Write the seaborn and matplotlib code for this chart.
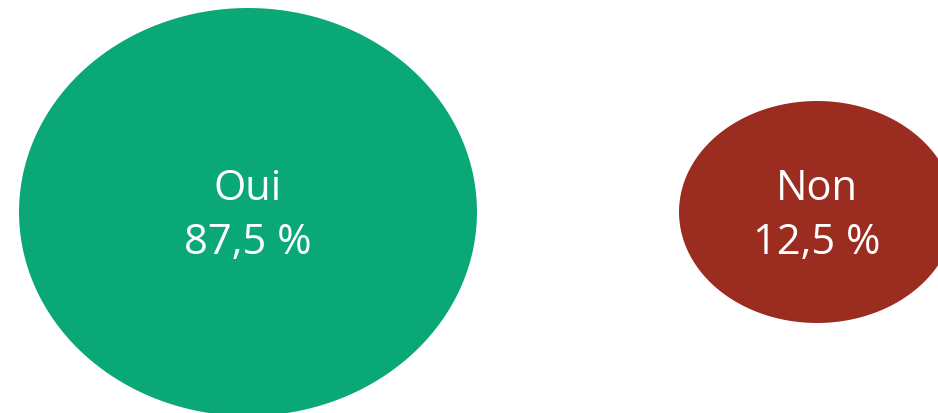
import numpy as np
import pandas as pd
import matplotlib
matplotlib.use("Agg")
import matplotlib.pyplot as plt
from matplotlib.path import Path
import seaborn as sns

# Data
labels = ["Oui", "Non"]
values = [87.5, 12.5]
colors = ["#0BA877", "#9B2D20"]


def ellipse_marker(aspect):
    """Unit circle squashed vertically -> ellipse marker (width / height = aspect)."""
    t = np.linspace(0, 2 * np.pi, 200)
    verts = np.column_stack([np.cos(t), np.sin(t) / aspect])
    return Path(verts, closed=True)


df = pd.DataFrame({"label": labels, "value": values, "x": [0, 1], "y": [0, 0]})

sns.set_style("white")
plt.rcParams["font.family"] = ["Open Sans", "DejaVu Sans"]

fig = plt.figure(figsize=(9.38, 4.14), dpi=100)
ax = fig.add_axes([0, 0, 1, 1])

# marker width in points = sqrt(size)
w_big = 458 * 0.72
w_small = 276 * 0.72
sns.scatterplot(
    data=df, x="x", y="y",
    hue="label", palette=dict(zip(labels, colors)),
    size="value", sizes=(w_small ** 2, w_big ** 2),
    style="label", markers={"Oui": ellipse_marker(458 / 408), "Non": ellipse_marker(276 / 222)},
    linewidth=0, legend=False, ax=ax,
)

for _, row in df.iterrows():
    txt = f"{row['label']}\n{row['value']:.1f} %".replace(".", ",")
    ax.text(row["x"], row["y"] - 3, txt, ha="center", va="center",
            color="white", fontsize=30, linespacing=1.38)

ax.set_xlim(-248 / 569, 690 / 569)
ax.set_ylim(-201, 213)
ax.axis("off")

fig.savefig("out.png", dpi=100)
